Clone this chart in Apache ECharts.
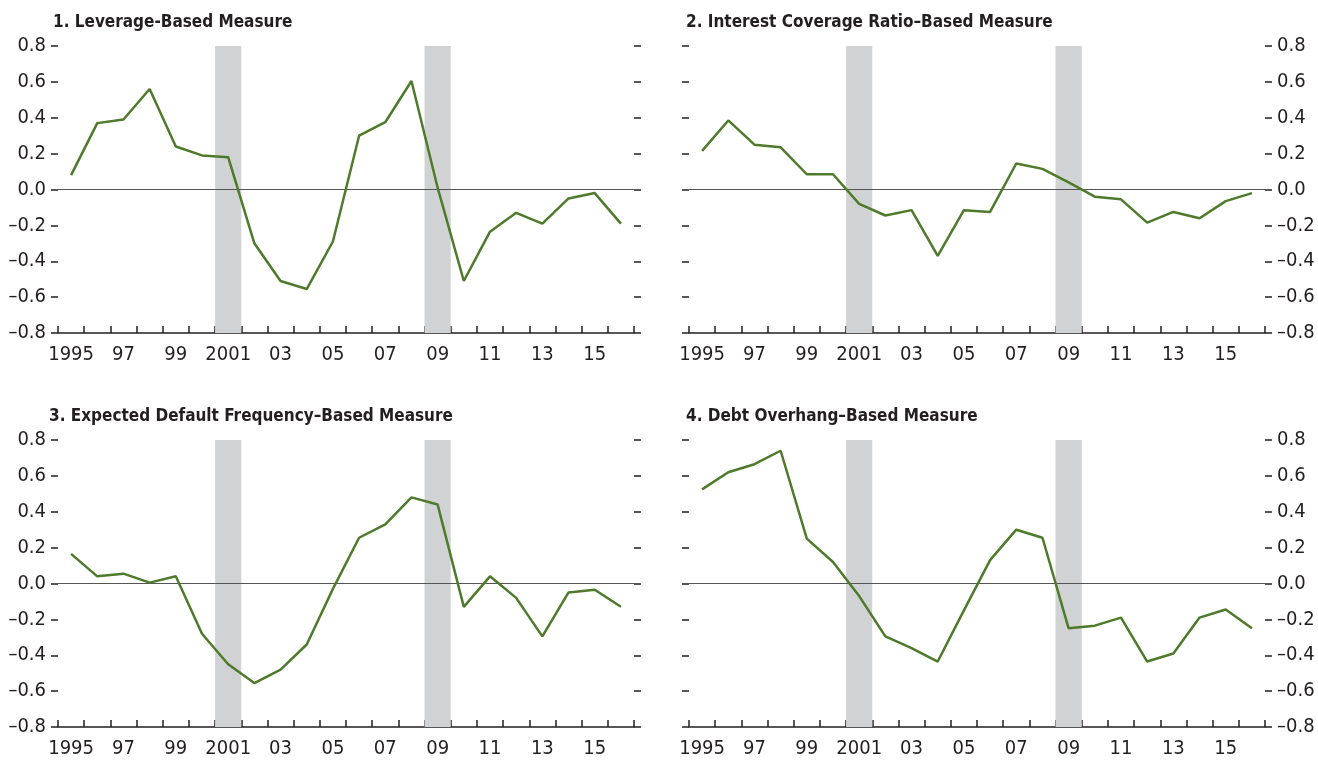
<!DOCTYPE html>
<html>
<head>
<meta charset="utf-8">
<script src="https://cdn.jsdelivr.net/npm/echarts@6/dist/echarts.min.js"></script>
<style>
  html, body { margin: 0; padding: 0; background: #fff; }
  #container { width: 1318px; height: 761px; }
</style>
</head>
<body>
<div id="container"></div>
<script>
var years = ['1995', '1996', '1997', '1998', '1999', '2000', '2001', '2002', '2003', '2004', '2005',
    '2006', '2007', '2008', '2009', '2010', '2011', '2012', '2013', '2014', '2015', '2016'];
var recessionYears = ['2001', '2009'];

var leverage = [0.08, 0.37, 0.39, 0.56, 0.24, 0.19, 0.18, -0.30, -0.51, -0.555, -0.29,
    0.30, 0.375, 0.605, 0.01, -0.51, -0.235, -0.13, -0.19, -0.05, -0.02, -0.19];
var interestCoverage = [0.215, 0.385, 0.25, 0.235, 0.085, 0.085, -0.08, -0.145, -0.115, -0.37, -0.115,
    -0.125, 0.145, 0.115, 0.04, -0.04, -0.055, -0.185, -0.125, -0.16, -0.065, -0.02];
var expectedDefault = [0.165, 0.04, 0.055, 0.005, 0.04, -0.28, -0.45, -0.555, -0.48, -0.34, -0.03,
    0.255, 0.33, 0.48, 0.44, -0.13, 0.04, -0.08, -0.295, -0.05, -0.035, -0.13];
var debtOverhang = [0.525, 0.62, 0.665, 0.74, 0.25, 0.12, -0.07, -0.295, -0.36, -0.435, -0.15,
    0.13, 0.30, 0.255, -0.25, -0.235, -0.19, -0.435, -0.39, -0.19, -0.145, -0.25];

var panels = [
    { title: '1. Leverage-Based Measure', data: leverage, left: 58, top: 46, labelSide: 'left', titleLeft: 48, titleTop: 9 },
    { title: '2. Interest Coverage Ratio\u2013Based Measure', data: interestCoverage, left: 689, top: 46, labelSide: 'right', titleLeft: 681, titleTop: 9 },
    { title: '3. Expected Default Frequency\u2013Based Measure', data: expectedDefault, left: 58, top: 440, labelSide: 'left', titleLeft: 44, titleTop: 403 },
    { title: '4. Debt Overhang\u2013Based Measure', data: debtOverhang, left: 689, top: 440, labelSide: 'right', titleLeft: 681, titleTop: 403 }
];

var FONT = '"Liberation Sans Narrow", "DejaVu Sans Condensed", "Arial Narrow", sans-serif';
var TEXT = '#231f20';
var LINE = '#4e7a2b';
var SHADE = '#d1d2d4';

var dom = document.getElementById('container');
var myChart = echarts.init(dom);

var upShade = years.map(function (y) { return recessionYears.indexOf(y) >= 0 ? 0.8 : '-'; });
var downShade = years.map(function (y) { return recessionYears.indexOf(y) >= 0 ? -0.8 : '-'; });

function yLabel(v) {
    var s = Math.abs(v).toFixed(1);
    return v < -0.001 ? '\u2013' + s : s;
}

var titles = [], grids = [], xAxes = [], yAxes = [], series = [];

panels.forEach(function (p, i) {
    titles.push({
        text: p.title,
        left: p.titleLeft,
        top: p.titleTop,
        textStyle: { fontFamily: FONT, fontSize: 17, fontWeight: 'bold', color: TEXT }
    });
    grids.push({ left: p.left, top: p.top, width: 576, height: 287 });
    xAxes.push({
        type: 'category',
        gridIndex: i,
        data: years,
        boundaryGap: true,
        axisLine: { show: true, onZero: false, lineStyle: { color: TEXT, width: 1.5 } },
        axisTick: { show: true, inside: true, length: 7, interval: 0, lineStyle: { color: TEXT, width: 1.5 } },
        axisLabel: {
            interval: 1,
            margin: 12,
            color: TEXT,
            fontFamily: FONT,
            fontSize: 20,
            formatter: function (v) {
                return (v === '1995' || v === '2001') ? v : v.slice(2);
            }
        },
        splitLine: { show: false }
    });
    ['left', 'right'].forEach(function (side) {
        yAxes.push({
            type: 'value',
            gridIndex: i,
            position: side,
            min: -0.8,
            max: 0.8,
            interval: 0.2,
            axisLine: { show: false },
            axisTick: { show: true, length: 7, lineStyle: { color: TEXT, width: 1.5 } },
            axisLabel: {
                show: side === p.labelSide,
                margin: 12,
                color: TEXT,
                fontFamily: FONT,
                fontSize: 20,
                formatter: yLabel
            },
            splitLine: { show: false }
        });
    });
    var yIdx = i * 2;
    series.push({
        type: 'bar', xAxisIndex: i, yAxisIndex: yIdx, data: upShade,
        barWidth: '100%', barGap: '-100%', itemStyle: { color: SHADE }, silent: true, z: 1
    });
    series.push({
        type: 'bar', xAxisIndex: i, yAxisIndex: yIdx, data: downShade,
        barWidth: '100%', barGap: '-100%', itemStyle: { color: SHADE }, silent: true, z: 1
    });
    series.push({
        type: 'line',
        xAxisIndex: i,
        yAxisIndex: yIdx,
        data: p.data,
        showSymbol: false,
        symbol: 'none',
        lineStyle: { color: LINE, width: 2.5 },
        z: 3,
        markLine: {
            silent: true,
            symbol: ['none', 'none'],
            label: { show: false },
            lineStyle: { color: '#555', width: 1, type: 'solid' },
            data: [{ yAxis: 0 }],
            z: 2
        }
    });
});

var option = {
    animation: false,
    backgroundColor: '#fff',
    title: titles,
    grid: grids,
    xAxis: xAxes,
    yAxis: yAxes,
    series: series
};

myChart.setOption(option, true);
</script>
</body>
</html>
